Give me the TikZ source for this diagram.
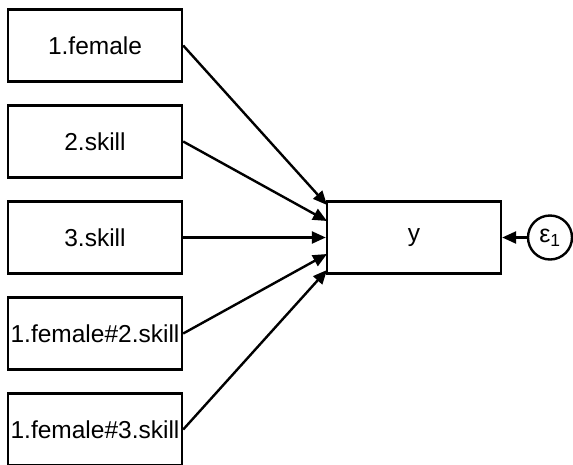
\documentclass[tikz,border=0pt]{standalone}
\usepackage{fontspec}
\setmainfont{Liberation Sans}
\usetikzlibrary{arrows.meta}
\begin{document}
\begin{tikzpicture}[x=1pt,y=-1pt,
  var/.style={draw,line width=2.4pt,minimum width=174pt,minimum height=72pt,inner sep=0pt,font=\fontsize{24.5}{28}\selectfont},
  err/.style={draw,circle,line width=2.4pt,minimum size=44pt,inner sep=0pt,font=\fontsize{25}{28}\selectfont},
  path/.style={line width=2.4pt,-{Triangle[length=14pt,width=12pt]}}]
\useasboundingbox (0,0) rectangle (573,464);
\node[var] (f1) at (95,45.5) {1.female};
\node[var] (s2) at (95,141.5) {2.skill};
\node[var] (s3) at (95,237.5) {3.skill};
\node[var] (i2) at (95,333.5) {1.female\#2.skill};
\node[var] (i3) at (95,429.5) {1.female\#3.skill};
\node[var] (y) at (414,237.5) {y};
\node[err] (e1) at (550,237.5) {ε\textsubscript{1}};
\coordinate (t1) at (327,205);
\coordinate (t2) at (327,221);
\coordinate (t4) at (327,254);
\coordinate (t5) at (327,270);
\draw[path] (f1.east) -- (t1);
\draw[path] (s2.east) -- (t2);
\draw[path] (s3.east) -- (y.west);
\draw[path] (i2.east) -- (t4);
\draw[path] (i3.east) -- (t5);
\draw[path] (e1.west) -- (y.east);
\end{tikzpicture}
\end{document}
